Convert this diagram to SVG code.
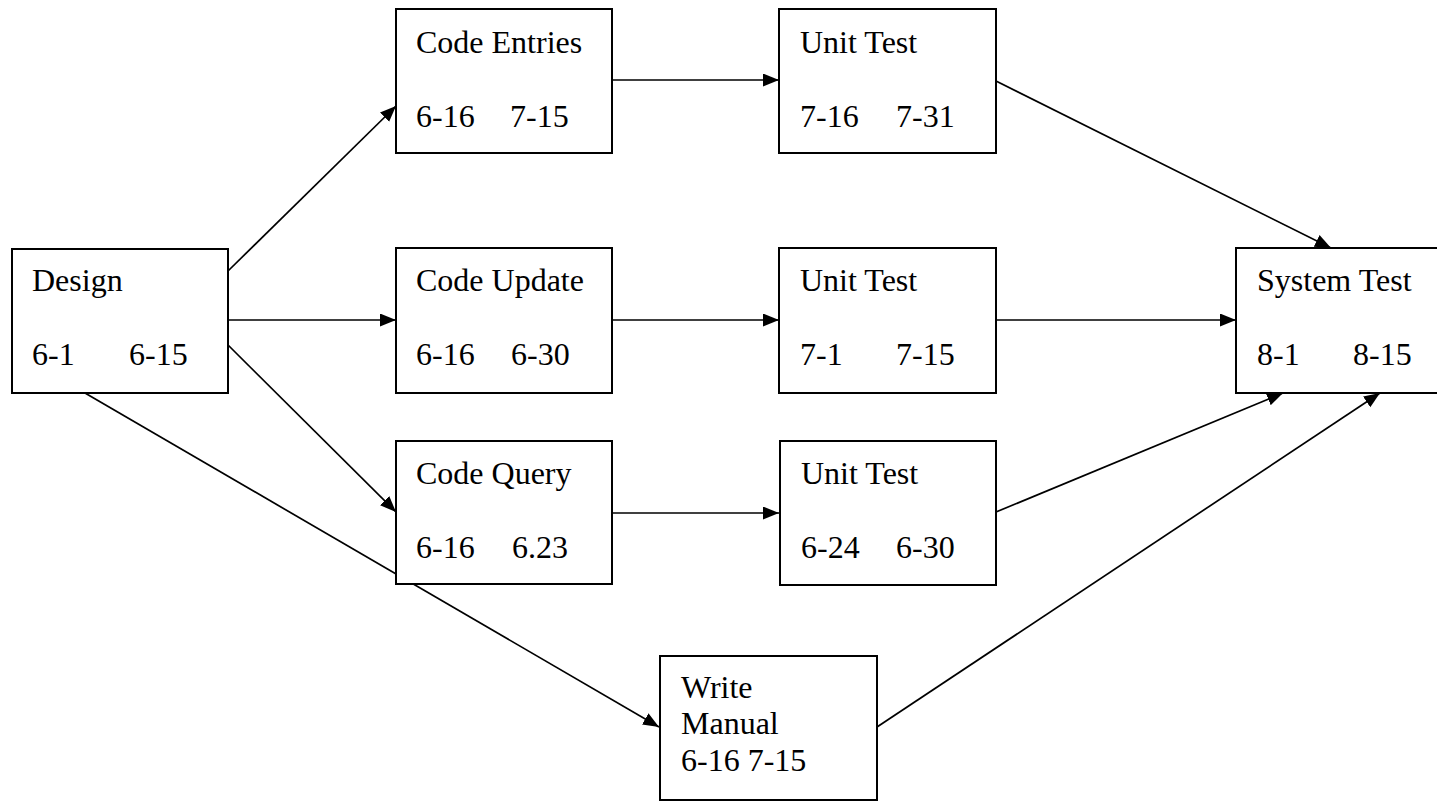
<svg xmlns="http://www.w3.org/2000/svg" width="1437" height="801" viewBox="0 0 1437 801">
<style>
.box{fill:#fff;stroke:#000;stroke-width:2}
.t{font-family:"Liberation Serif","Times New Roman",Times,serif;font-size:32px;fill:#000}
.c{stroke:#000;stroke-width:1.7;fill:none;marker-end:url(#ah)}
</style>
<defs>
<marker id="ah" markerUnits="userSpaceOnUse" markerWidth="18" markerHeight="14" refX="16" refY="6.5" orient="auto">
<path d="M0,0 L16,6.5 L0,13 z" fill="#000"/>
</marker>
</defs>
<rect width="1437" height="801" fill="#fff"/>
<g id="connectors">
<line class="c" x1="228" y1="271" x2="396" y2="106"/>
<line class="c" x1="228" y1="320" x2="396" y2="320"/>
<line class="c" x1="228" y1="345" x2="396" y2="512"/>
<line class="c" x1="85" y1="393" x2="659" y2="727"/>
<line class="c" x1="612" y1="80" x2="779" y2="80"/>
<line class="c" x1="612" y1="320" x2="779" y2="320"/>
<line class="c" x1="612" y1="513" x2="779" y2="513"/>
<line class="c" x1="996" y1="81" x2="1331" y2="248"/>
<line class="c" x1="996" y1="320" x2="1236" y2="320"/>
<line class="c" x1="996" y1="512" x2="1283" y2="393"/>
<line class="c" x1="877" y1="727" x2="1380" y2="393"/>
</g>
<g id="design">
<rect class="box" x="12" y="249" width="216" height="144"/>
<text class="t" x="32" y="291">Design</text>
<text class="t" x="32" y="365">6-1</text>
<text class="t" x="129" y="365">6-15</text>
</g>
<g id="code-entries">
<rect class="box" x="396" y="9" width="216" height="144"/>
<text class="t" x="416" y="53">Code Entries</text>
<text class="t" x="416" y="127">6-16</text>
<text class="t" x="510" y="127">7-15</text>
</g>
<g id="unit-test-1">
<rect class="box" x="779" y="9" width="217" height="144"/>
<text class="t" x="800" y="53">Unit Test</text>
<text class="t" x="800" y="127">7-16</text>
<text class="t" x="896" y="127">7-31</text>
</g>
<g id="code-update">
<rect class="box" x="396" y="248" width="216" height="145"/>
<text class="t" x="416" y="291">Code Update</text>
<text class="t" x="416" y="365">6-16</text>
<text class="t" x="511" y="365">6-30</text>
</g>
<g id="unit-test-2">
<rect class="box" x="779" y="248" width="217" height="145"/>
<text class="t" x="800" y="291">Unit Test</text>
<text class="t" x="800" y="365">7-1</text>
<text class="t" x="896" y="365">7-15</text>
</g>
<g id="system-test">
<rect class="box" x="1236" y="248" width="216" height="145"/>
<text class="t" x="1257" y="291">System Test</text>
<text class="t" x="1257" y="365">8-1</text>
<text class="t" x="1353" y="365">8-15</text>
</g>
<g id="code-query">
<rect class="box" x="396" y="441" width="216" height="143"/>
<text class="t" x="416" y="484">Code Query</text>
<text class="t" x="416" y="558">6-16</text>
<text class="t" x="512" y="558">6.23</text>
</g>
<g id="unit-test-3">
<rect class="box" x="780" y="441" width="216" height="144"/>
<text class="t" x="801" y="484">Unit Test</text>
<text class="t" x="801" y="558">6-24</text>
<text class="t" x="896" y="558">6-30</text>
</g>
<g id="write-manual">
<rect class="box" x="660" y="656" width="217" height="144"/>
<text class="t" x="681" y="698">Write</text>
<text class="t" x="681" y="734">Manual</text>
<text class="t" x="681" y="771">6-16 7-15</text>
</g>
</svg>
